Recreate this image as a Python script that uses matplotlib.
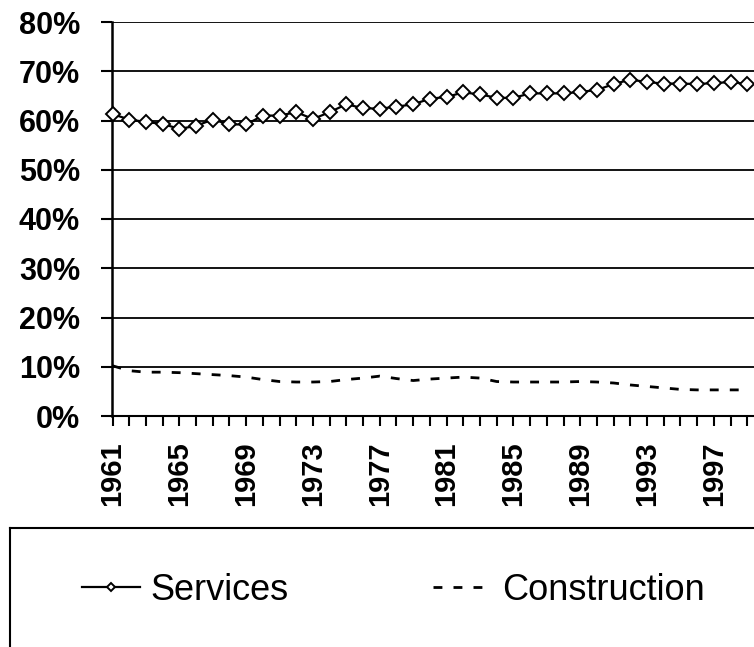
import numpy as np
import matplotlib
matplotlib.use('Agg')
import matplotlib.pyplot as plt
from matplotlib.lines import Line2D

plt.rcParams['font.family'] = ['Liberation Sans', 'DejaVu Sans']

years = np.arange(1961, 2000)
services = [61.3, 60.2, 59.7, 59.3, 58.3, 58.9, 60.2, 59.2, 59.2, 61.0,
            61.0, 61.7, 60.3, 61.7, 63.3, 62.5, 62.4, 62.8, 63.3, 64.4,
            64.8, 65.7, 65.3, 64.6, 64.6, 65.5, 65.5, 65.5, 65.8, 66.2,
            67.4, 68.3, 67.8, 67.5, 67.5, 67.4, 67.6, 67.8, 67.4]
construction = [10.2, 9.2, 8.9, 8.9, 8.8, 8.6, 8.4, 8.2, 7.9, 7.4,
                7.0, 6.9, 6.9, 7.0, 7.4, 7.7, 8.1, 7.6, 7.2, 7.5,
                7.7, 7.9, 7.7, 7.0, 6.9, 6.9, 6.9, 6.9, 7.0, 6.9,
                6.7, 6.3, 6.0, 5.7, 5.4, 5.3, 5.3, 5.3, 5.3]
label_years = list(range(1961, 2000, 4))
y_ticks = [0, 10, 20, 30, 40, 50, 60, 70, 80]

services = np.array(services) / 100
construction = np.array(construction) / 100

fig = plt.figure(figsize=(7.54, 6.47), dpi=100)
ax = fig.add_axes([112/754, 1 - 416/647, 1 - 112/754, (416 - 22)/647])

ax.plot(years, services, color='black', lw=1.6, marker='D', markersize=7,
        markerfacecolor='white', markeredgecolor='black', markeredgewidth=1.4,
        label='Services', zorder=3, clip_on=False)
ax.plot(years, construction, color='black', lw=2, linestyle=(0, (3.2, 4)),
        label='Construction', zorder=3)

ax.set_ylim(0, 0.8)
ax.set_xlim(1960.97, 1999.4)
ax.set_yticks([v / 100 for v in y_ticks])
ax.set_yticklabels(['%d%%' % v for v in y_ticks], fontsize=22, fontweight='bold')
ax.set_xticks(label_years)
ax.set_xticklabels([str(y) for y in label_years], rotation=90, fontsize=21,
                   fontweight='bold')
ax.set_xticks(years, minor=True)

for v in y_ticks[1:]:
    ax.axhline(v / 100, color='black', lw=1.3, zorder=1)

ax.spines['top'].set_visible(False)
ax.spines['right'].set_visible(False)
ax.spines['left'].set_linewidth(1.8)
ax.spines['bottom'].set_linewidth(1.5)
ax.tick_params(axis='y', length=8, width=1.5, pad=15)
ax.tick_params(axis='x', which='both', length=7, width=1.5, pad=11, direction='out')

# legend frame (top and left edges only visible)
fig.add_artist(Line2D([10/754, 1.0], [1 - 528/647, 1 - 528/647], color='black', lw=1.5))
fig.add_artist(Line2D([10/754, 10/754], [0, 1 - 528/647], color='black', lw=1.5))

handles, labels = ax.get_legend_handles_labels()
fig.legend(handles, labels, loc='center left', bbox_to_anchor=(82/754, 1 - 590/647),
           ncol=2, frameon=False, fontsize=26, handlelength=1.6, handletextpad=0.3,
           columnspacing=4.0, borderpad=0, borderaxespad=0, markerscale=0.6)

fig.savefig('out.png', dpi=100)
